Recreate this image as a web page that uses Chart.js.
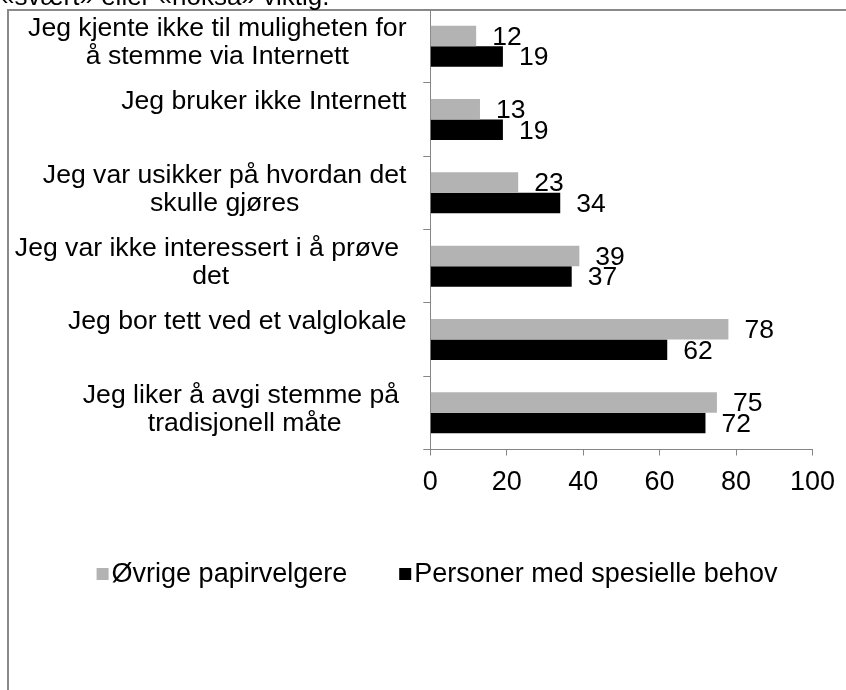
<!DOCTYPE html>
<html><head><meta charset="utf-8">
<script src="https://cdn.jsdelivr.net/npm/chart.js@4/dist/chart.umd.min.js"></script>
<style>html,body{margin:0;padding:0;background:#fff;overflow:hidden}#wrap{width:846px;height:690px;position:relative}</style>
</head><body><div id="wrap"><canvas id="c" width="846" height="690"></canvas></div>
<script>
const titleFragment = '«svært» eller «noksa» viktig.';
const categories = [
  ['Jeg kjente ikke til muligheten for', 'å stemme via Internett'],
  ['Jeg bruker ikke Internett'],
  ['Jeg var usikker på hvordan det', 'skulle gjøres'],
  ['Jeg var ikke interessert i å prøve ', 'det'],
  ['Jeg bor tett ved et valglokale'],
  ['Jeg liker å avgi stemme på ', 'tradisjonell måte']
];
const seriesNames = ['Øvrige papirvelgere', 'Personer med spesielle behov'];
const ovrigeValues = [12, 13, 23, 39, 78, 75];
const spesielleValues = [19, 19, 34, 37, 62, 72];
const xTicks = [0, 20, 40, 60, 80, 100];

const FONT = "'Liberation Sans', Arial, sans-serif";
const AXIS = '#868686';

const framePlugin = {
  id: 'frame',
  beforeDraw(chart) {
    const ctx = chart.ctx;
    ctx.save();
    ctx.fillStyle = '#fff';
    ctx.fillRect(0, 0, chart.width, chart.height);
    ctx.strokeStyle = '#8a8a8a';
    ctx.lineWidth = 2;
    ctx.beginPath();
    ctx.moveTo(8, chart.height);
    ctx.lineTo(8, 10);
    ctx.lineTo(chart.width, 10);
    ctx.stroke();
    ctx.fillStyle = '#000';
    ctx.font = '26px ' + FONT;
    ctx.textAlign = 'left';
    ctx.textBaseline = 'alphabetic';
    ctx.fillText(titleFragment, 0, 5);
    ctx.restore();
  }
};

const catLabelPlugin = {
  id: 'catLabels',
  afterDraw(chart) {
    const ctx = chart.ctx;
    const ys = chart.scales.y;
    const R = 406.5, lh = 28;
    ctx.save();
    ctx.font = '26.6px ' + FONT;
    ctx.fillStyle = '#000';
    ctx.textAlign = 'center';
    ctx.textBaseline = 'middle';
    chart.data.labels.forEach((lines, i) => {
      const c = ys.getPixelForValue(i);
      const w = Math.max(...lines.map(l => ctx.measureText(l).width));
      const cx = R - w / 2;
      const top = c - 3.5 - lh / 2;
      lines.forEach((l, k) => ctx.fillText(l, cx, top + k * lh));
    });
    ctx.restore();
  }
};

const valueLabelPlugin = {
  id: 'valueLabels',
  afterDatasetsDraw(chart) {
    const ctx = chart.ctx;
    ctx.save();
    ctx.font = '26.5px ' + FONT;
    ctx.fillStyle = '#000';
    ctx.textAlign = 'left';
    ctx.textBaseline = 'middle';
    chart.data.datasets.forEach((ds, di) => {
      chart.getDatasetMeta(di).data.forEach((bar, j) => {
        ctx.fillText(String(ds.data[j]), bar.x + 16, bar.y + 1.5);
      });
    });
    ctx.restore();
  }
};

const legendPlugin = {
  id: 'customLegend',
  afterDraw(chart) {
    const ctx = chart.ctx;
    ctx.save();
    ctx.font = '27px ' + FONT;
    ctx.textBaseline = 'alphabetic';
    ctx.textAlign = 'left';
    const sq = 12, gap = 3, itemGap = 52;
    const items = chart.data.datasets.map(ds => ({ text: ds.label, color: ds.backgroundColor, w: ctx.measureText(ds.label).width }));
    const total = items.reduce((s, it) => s + sq + gap + it.w, 0) + itemGap * (items.length - 1);
    let x = 437 - total / 2;
    items.forEach(it => {
      ctx.fillStyle = it.color;
      ctx.fillRect(x, 568, sq, 12);
      ctx.fillStyle = '#000';
      ctx.fillText(it.text, x + sq + gap, 582);
      x += sq + gap + it.w + itemGap;
    });
    ctx.restore();
  }
};

new Chart(document.getElementById('c'), {
  type: 'bar',
  data: {
    labels: categories,
    datasets: [
      { label: seriesNames[0], data: ovrigeValues, backgroundColor: '#b3b3b3', borderWidth: 0 },
      { label: seriesNames[1], data: spesielleValues, backgroundColor: '#000000', borderWidth: 0 }
    ]
  },
  options: {
    indexAxis: 'y',
    responsive: false,
    devicePixelRatio: 1,
    animation: false,
    events: [],
    layout: { padding: { top: 9.5, right: 27.7, bottom: 0, left: 0 } },
    datasets: { bar: { categoryPercentage: 0.56, barPercentage: 1.0 } },
    plugins: { legend: { display: false }, tooltip: { enabled: false }, title: { display: false } },
    scales: {
      y: {
        type: 'category',
        grid: { offset: true, drawOnChartArea: false, drawTicks: true, tickLength: 7, color: AXIS, lineWidth: 1 },
        border: { display: true, color: AXIS, width: 1 },
        ticks: { display: false },
        afterFit(s) { s.width = 430.3; }
      },
      x: {
        min: 0, max: 100,
        afterBuildTicks(s) { s.ticks = xTicks.map(v => ({ value: v })); },
        grid: { drawOnChartArea: false, drawTicks: true, tickLength: 6, color: AXIS, lineWidth: 1 },
        border: { display: true, color: AXIS, width: 1 },
        ticks: { font: { family: FONT, size: 27 }, color: '#000', padding: 11, maxRotation: 0, autoSkip: false },
        afterFit(s) { s.height = 240.5; }
      }
    }
  },
  plugins: [framePlugin, catLabelPlugin, valueLabelPlugin, legendPlugin]
});
</script>
</body></html>
